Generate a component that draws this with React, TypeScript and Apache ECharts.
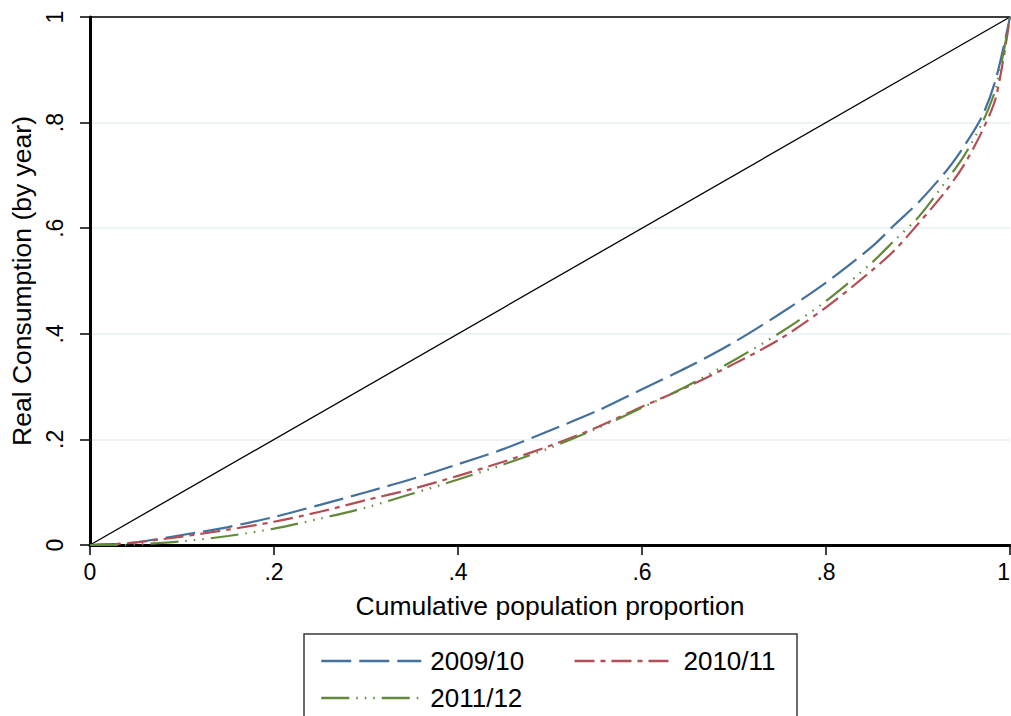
import React, { useEffect, useRef } from "react";
import * as echarts from "echarts";

const populationShare = [0, 0.03, 0.05, 0.1, 0.15, 0.2, 0.25, 0.3, 0.35, 0.4, 0.45, 0.5, 0.55, 0.6, 0.65, 0.7, 0.75, 0.8, 0.85, 0.875, 0.9, 0.93, 0.95, 0.97, 0.985, 1];
const consumption0910 = [0, 0.002, 0.005, 0.019, 0.034, 0.053, 0.076, 0.1, 0.125, 0.153, 0.182, 0.217, 0.253, 0.295, 0.337, 0.384, 0.438, 0.497, 0.565, 0.607, 0.648, 0.707, 0.755, 0.813, 0.885, 1];
const consumption1011 = [0, 0.002, 0.005, 0.016, 0.029, 0.044, 0.063, 0.085, 0.106, 0.131, 0.158, 0.188, 0.222, 0.262, 0.3, 0.343, 0.39, 0.45, 0.52, 0.559, 0.608, 0.67, 0.72, 0.785, 0.85, 1];
const consumption1112 = [0, 0, 0.001, 0.007, 0.017, 0.031, 0.05, 0.071, 0.097, 0.124, 0.153, 0.184, 0.22, 0.26, 0.302, 0.35, 0.402, 0.462, 0.535, 0.578, 0.62, 0.688, 0.737, 0.8, 0.868, 1];
const equalityLine = [[0, 0], [1, 1]];
const seriesNames = ["2009/10", "2010/11", "2011/12"];

const fmt = (v: number) => {
  const r = Number(v.toFixed(1));
  if (r === 0) return "0";
  if (r === 1) return "1";
  return String(r).replace(/^0/, "");
};

export default function App() {
  const ref = useRef<HTMLDivElement>(null);
  useEffect(() => {
    if (!ref.current) return;
    const chart = echarts.init(ref.current, undefined, { renderer: "svg" });
    const toPts = (ys: number[]) => populationShare.map((x, i) => [x, ys[i]]);
    const font = "Liberation Sans, Arial, sans-serif";
    const legendCommon = {
      left: 315,
      orient: "horizontal",
      itemWidth: 100,
      itemHeight: 14,
      itemGap: 49,
      textStyle: { fontSize: 26, color: "#000", fontFamily: font, padding: [0, 0, 0, 4] },
      lineStyle: { width: 2.5 },
      itemStyle: { opacity: 0 },
      selectedMode: false,
    };
    chart.setOption({
      animation: false,
      backgroundColor: "#ffffff",
      textStyle: { fontFamily: font },
      grid: { left: 90, right: 1, top: 17, bottom: 171, containLabel: false, outerBoundsMode: "none" },
      xAxis: [
        {
          type: "value",
          min: 0,
          max: 1,
          interval: 0.2,
          name: "Cumulative population proportion",
          nameLocation: "middle",
          nameGap: 47,
          nameTextStyle: { fontSize: 26.5, color: "#000", fontFamily: font },
          axisLine: { show: true, onZero: false, lineStyle: { color: "#000", width: 3 } },
          axisTick: { show: true, length: 10, lineStyle: { color: "#000", width: 1.5 } },
          axisLabel: {
            fontSize: 23,
            color: "#000",
            margin: 15,
            formatter: fmt,
            fontFamily: font,
            hideOverlap: false,
            alignMaxLabel: "right",
          },
          splitLine: { show: false },
        },
        {
          type: "value",
          position: "top",
          min: 0,
          max: 1,
          axisLine: { show: true, onZero: false, lineStyle: { color: "#000", width: 1.5 } },
          axisTick: { show: false },
          axisLabel: { show: false },
          splitLine: { show: false },
        },
      ],
      yAxis: {
        type: "value",
        min: 0,
        max: 1,
        interval: 0.2,
        name: "Real Consumption (by year)",
        nameLocation: "middle",
        nameGap: 46,
        nameRotate: 90,
        nameTextStyle: { fontSize: 26.5, color: "#000", fontFamily: font },
        axisLine: { show: true, onZero: false, lineStyle: { color: "#000", width: 3 } },
        axisTick: { show: true, length: 10, lineStyle: { color: "#000", width: 1.5 } },
        axisLabel: { fontSize: 23, color: "#000", margin: 24, rotate: 90, formatter: fmt, fontFamily: font },
        splitLine: { show: true, lineStyle: { color: "#e6eff1", width: 1.5 } },
      },
      legend: [
        { ...legendCommon, data: [seriesNames[0], seriesNames[1]], top: 643 },
        { ...legendCommon, data: [seriesNames[2]], top: 680 },
      ],
      graphic: [
        {
          type: "rect",
          shape: { x: 304, y: 634, width: 493, height: 100 },
          style: { fill: "#fff", stroke: "#3a3a3a", lineWidth: 1.5 },
          z: 0,
        },
      ],
      series: [
        {
          name: "equality",
          type: "line",
          data: equalityLine,
          symbol: "none",
          lineStyle: { color: "#000", width: 1.3 },
          silent: true,
        },
        {
          name: seriesNames[0],
          type: "line",
          data: toPts(consumption0910),
          symbol: "none",
          smooth: 0.3,
          color: "#44709c",
          lineStyle: { color: "#44709c", width: 2.2, type: [30, 8] },
        },
        {
          name: seriesNames[1],
          type: "line",
          data: toPts(consumption1011),
          symbol: "none",
          smooth: 0.3,
          color: "#b34d56",
          lineStyle: { color: "#b34d56", width: 2.2, type: [20, 6, 5, 6] },
        },
        {
          name: seriesNames[2],
          type: "line",
          data: toPts(consumption1112),
          symbol: "none",
          smooth: 0.3,
          color: "#62893b",
          lineStyle: { color: "#62893b", width: 2.2, type: [28, 7, 1.5, 7, 1.5, 7, 1.5, 7] },
        },
      ],
    });
    return () => chart.dispose();
  }, []);
  return (
    <div
      ref={ref}
      style={{ position: "absolute", left: 0, top: 0, width: 1011, height: 716, background: "#fff" }}
    />
  );
}
